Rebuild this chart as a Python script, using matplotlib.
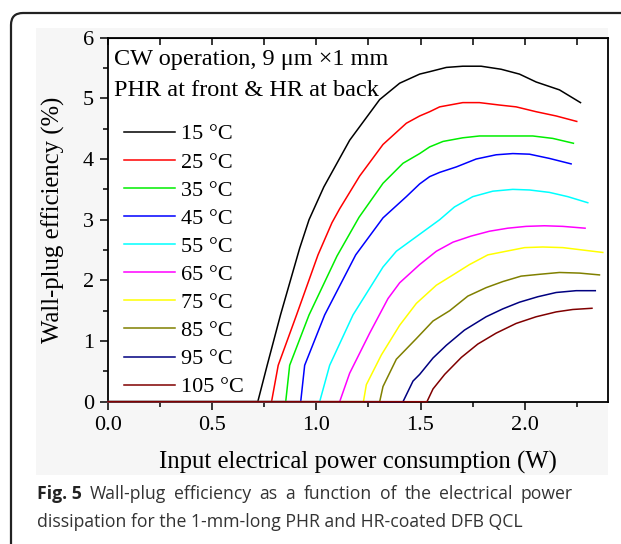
import matplotlib
matplotlib.use('Agg')
import matplotlib.pyplot as plt
from matplotlib.patches import FancyBboxPatch, Rectangle
from matplotlib.transforms import IdentityTransform
from matplotlib.ticker import MultipleLocator

# wall-plug efficiency (%) vs input electrical power (W)
p_15 = [0.0, 0.719, 0.764, 0.828, 0.920, 0.965, 1.036, 1.160, 1.304, 1.400, 1.496, 1.544, 1.624, 1.703, 1.791, 1.887, 1.975, 2.055, 2.167, 2.268]
w_15 = [0.0, 0.0, 0.60, 1.43, 2.53, 3.00, 3.54, 4.31, 4.98, 5.25, 5.40, 5.44, 5.51, 5.53, 5.53, 5.48, 5.40, 5.27, 5.14, 4.93]

p_25 = [0.0, 0.785, 0.817, 0.905, 1.008, 1.075, 1.112, 1.208, 1.320, 1.432, 1.496, 1.544, 1.592, 1.703, 1.783, 1.879, 1.959, 2.055, 2.151, 2.250]
w_25 = [0.0, 0.0, 0.60, 1.43, 2.42, 2.95, 3.18, 3.72, 4.24, 4.59, 4.71, 4.78, 4.86, 4.93, 4.93, 4.89, 4.86, 4.78, 4.71, 4.62]

p_35 = [0.0, 0.853, 0.872, 0.965, 1.099, 1.205, 1.320, 1.416, 1.496, 1.544, 1.608, 1.703, 1.783, 1.879, 1.959, 2.039, 2.135, 2.234]
w_35 = [0.0, 0.0, 0.60, 1.43, 2.40, 3.04, 3.60, 3.93, 4.09, 4.20, 4.29, 4.35, 4.38, 4.38, 4.38, 4.38, 4.34, 4.26]

p_45 = [0.0, 0.925, 0.944, 1.040, 1.189, 1.320, 1.432, 1.496, 1.544, 1.592, 1.672, 1.767, 1.863, 1.943, 2.023, 2.119, 2.223]
w_45 = [0.0, 0.0, 0.60, 1.43, 2.42, 3.03, 3.38, 3.59, 3.71, 3.78, 3.87, 4.00, 4.07, 4.09, 4.08, 4.01, 3.92]

p_55 = [0.0, 1.016, 1.064, 1.176, 1.320, 1.384, 1.472, 1.528, 1.592, 1.663, 1.751, 1.847, 1.943, 2.023, 2.119, 2.207, 2.303]
w_55 = [0.0, 0.0, 0.60, 1.43, 2.22, 2.48, 2.70, 2.84, 3.00, 3.21, 3.38, 3.47, 3.50, 3.49, 3.45, 3.38, 3.28]

p_65 = [0.0, 1.112, 1.160, 1.256, 1.344, 1.400, 1.496, 1.576, 1.656, 1.743, 1.831, 1.919, 2.007, 2.095, 2.183, 2.290]
w_65 = [0.0, 0.0, 0.47, 1.13, 1.70, 1.96, 2.26, 2.48, 2.63, 2.73, 2.81, 2.86, 2.89, 2.90, 2.89, 2.86]

p_75 = [0.0, 1.226, 1.240, 1.312, 1.400, 1.480, 1.576, 1.656, 1.735, 1.823, 1.911, 2.000, 2.087, 2.183, 2.279, 2.375]
w_75 = [0.0, 0.0, 0.28, 0.77, 1.26, 1.62, 1.92, 2.09, 2.26, 2.42, 2.48, 2.54, 2.55, 2.54, 2.50, 2.46]

p_85 = [0.0, 1.304, 1.320, 1.384, 1.480, 1.560, 1.640, 1.727, 1.815, 1.895, 1.983, 2.071, 2.167, 2.263, 2.359]
w_85 = [0.0, 0.0, 0.25, 0.70, 1.04, 1.33, 1.50, 1.74, 1.88, 1.98, 2.07, 2.10, 2.13, 2.12, 2.09]

p_95 = [0.0, 1.416, 1.464, 1.496, 1.560, 1.624, 1.711, 1.815, 1.895, 1.975, 2.063, 2.151, 2.247, 2.339]
w_95 = [0.0, 0.0, 0.34, 0.45, 0.72, 0.93, 1.18, 1.40, 1.53, 1.64, 1.73, 1.80, 1.83, 1.83]

p_105 = [0.0, 1.531, 1.560, 1.616, 1.696, 1.775, 1.863, 1.959, 2.055, 2.151, 2.231, 2.323]
w_105 = [0.0, 0.0, 0.21, 0.45, 0.73, 0.95, 1.13, 1.29, 1.40, 1.48, 1.52, 1.54]

labels = ['15 °C', '25 °C', '35 °C', '45 °C', '55 °C', '65 °C', '75 °C', '85 °C', '95 °C', '105 °C']
colors = ['#000000', '#ff0000', '#00ee00', '#0000ff', '#00ffff', '#ff00ff', '#ffff00', '#808000', '#000080', '#800000']
curves = [(p_15, w_15), (p_25, w_25), (p_35, w_35), (p_45, w_45), (p_55, w_55),
          (p_65, w_65), (p_75, w_75), (p_85, w_85), (p_95, w_95), (p_105, w_105)]

x_ticks = [0.0, 0.5, 1.0, 1.5, 2.0]
y_ticks = [0, 1, 2, 3, 4, 5, 6]

caption_1 = ['Fig. 5', 'Wall-plug', 'efficiency', 'as', 'a', 'function', 'of', 'the', 'electrical', 'power']
caption_2 = 'dissipation for the 1-mm-long PHR and HR-coated DFB QCL'

plt.rcParams['font.family'] = 'Liberation Serif'
W, H = 621, 544
fig = plt.figure(figsize=(W / 100, H / 100), dpi=100)

# faint grey background of the pasted chart image
fig.patches.append(Rectangle((36 / W, 1 - 475 / H), (608 - 36) / W, (475 - 28) / H,
                             transform=fig.transFigure, facecolor='#f6f6f6', edgecolor='none', zorder=-3))
# rounded frame around the figure panel
fig.patches.append(FancyBboxPatch((11, -20), 700, H - 13 + 20,
                                  boxstyle='round,pad=0,rounding_size=12',
                                  transform=IdentityTransform(), facecolor='none',
                                  edgecolor='#222222', linewidth=1.6, zorder=-2))

ax = fig.add_axes([108 / W, 1 - 401.7 / H, 500 / W, 364 / H])
ax.set_facecolor('white')

for (p, w), lab, col in zip(curves, labels, colors):
    ax.plot(p, w, color=col, lw=1.1, label=lab, zorder=3, clip_on=False)

ax.set_xlim(0, 2.4)
ax.set_ylim(0, 6)
ax.set_xticks(x_ticks)
ax.set_xticklabels(['%.1f' % v for v in x_ticks])
ax.set_yticks(y_ticks)
ax.xaxis.set_minor_locator(MultipleLocator(0.25))
ax.yaxis.set_minor_locator(MultipleLocator(0.5))
ax.tick_params(which='major', direction='out', length=6, width=1.1, labelsize=16, pad=4)
ax.tick_params(which='minor', direction='out', length=3.5, width=1.1)
ax.tick_params(right=False, top=False, which='both')
for s in ax.spines.values():
    s.set_linewidth(1.3)

top = ax.secondary_xaxis('top')
top.set_xticks(x_ticks)
top.xaxis.set_minor_locator(MultipleLocator(0.25))
top.tick_params(which='both', direction='in', length=5, width=1.1, labeltop=False)

ax.set_xlabel('Input electrical power consumption (W)', fontsize=17.8, labelpad=12)
ax.set_ylabel('Wall-plug efficiency (%)', fontsize=17.8, labelpad=13)

ax.text(0.012, 0.94, 'CW operation, 9 μm ×1 mm', transform=ax.transAxes, fontsize=17.5, va='center')
ax.text(0.012, 0.856, 'PHR at front & HR at back', transform=ax.transAxes, fontsize=17.5, va='center')

ax.legend(loc='upper left', bbox_to_anchor=(0.0, 0.806), frameon=False, fontsize=16,
          handlelength=2.3, handletextpad=0.3, labelspacing=0.34, borderaxespad=0.3)

# caption: first line justified to the full width, second line left aligned
cap_font = 'Open Sans'
renderer = fig.canvas.get_renderer()
words = []
for i, wd in enumerate(caption_1):
    words.append(fig.text(0, 1 - 494 / H, wd, fontsize=12.7, family=cap_font, va='center',
                          fontweight='bold' if i == 0 else 'normal',
                          color='#222222' if i == 0 else '#333333'))
widths = [tx.get_window_extent(renderer).width for tx in words]
gap = (573 - 37 - sum(widths)) / (len(words) - 1)
xpos = 37
for tx, wd in zip(words, widths):
    tx.set_x(xpos / W)
    xpos += wd + gap
fig.text(37 / W, 1 - 522 / H, caption_2, fontsize=12.7, family=cap_font, color='#333333', va='center')

fig.savefig('out.png', dpi=100)
